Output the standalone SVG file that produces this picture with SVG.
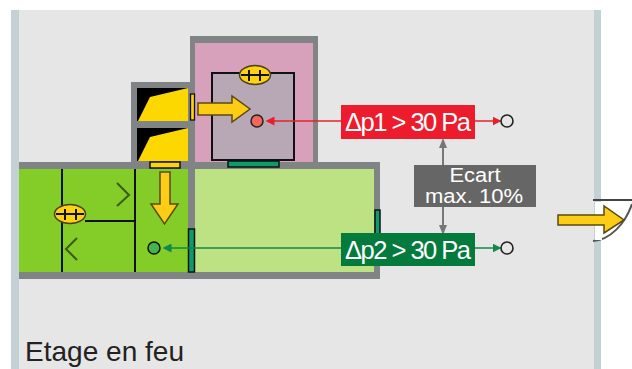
<svg xmlns="http://www.w3.org/2000/svg" width="632" height="369" viewBox="0 0 632 369">
<defs>
<style>
text{font-family:"Liberation Sans",Arial,sans-serif}
.wall{fill:#808484}
.blk{stroke:#111;fill:none;stroke-width:2}
.arrow{fill:#fdcc14;stroke:#5a4a10;stroke-width:1.5}
.oval{fill:#fdd20f;stroke:#4a4020;stroke-width:1.5}
.lbl{fill:#fff;font-size:25.500px}
.sm{fill:#fff;font-size:20px;text-anchor:middle}
.port{fill:#e6e6e6;stroke:#222;stroke-width:1.6}
</style>
<marker id="r" markerWidth="6" markerHeight="6" refX="5" refY="3" orient="auto"><path d="M0 0L6 3L0 6z" fill="#e8202a"/></marker>
<marker id="g" markerWidth="6" markerHeight="6" refX="5" refY="3" orient="auto"><path d="M0 0L6 3L0 6z" fill="#0f8a4a"/></marker>
<marker id="k" markerWidth="5" markerHeight="4" refX="4" refY="2" orient="auto"><path d="M0 0L5 2L0 4z" fill="#777"/></marker>
</defs>
<rect width="632" height="369" fill="#fff"/>
<g id="floor">
<rect x="12" y="10" width="588" height="359" fill="#e6e6e6"/>
<rect x="11" y="10" width="8" height="359" fill="#c3d1d5"/>
<rect x="594" y="10" width="7" height="359" fill="#c3d1d5"/>
<text x="25" y="361" font-size="28" fill="#222" textLength="159" lengthAdjust="spacingAndGlyphs">Etage en feu</text>
</g>
<g id="room-top">
<rect class="wall" x="190" y="36" width="128" height="130"/>
<rect x="195" y="43" width="118" height="119" fill="#d7a1bb"/>
<rect x="212" y="73" width="82" height="87" fill="#b8a7b4" stroke="#111" stroke-width="2"/>
<ellipse class="oval" cx="255" cy="75" rx="15.500" ry="9.500"/>
<path class="blk" d="M241 75H269M249 70V81M260 70V81"/>
</g>
<g id="shaft">
<rect class="wall" x="131" y="82" width="60" height="84"/>
<rect x="137" y="88" width="51" height="33" fill="#000"/>
<rect x="137" y="128" width="51" height="33" fill="#000"/>
<path d="M138 121L150 97L188 88V121Z" fill="#fdd800"/>
<path d="M138 161L150 137L188 128V161Z" fill="#fdd800"/>
<rect x="190.500" y="94" width="4" height="26" fill="#fdd20f" stroke="#111" stroke-width="1.300"/>
</g>
<g id="room-bottom">
<rect class="wall" x="19" y="162" width="361" height="117"/>
<rect x="19" y="169" width="169" height="103" fill="#84cc27"/>
<rect x="195" y="169" width="179" height="103" fill="#bde284"/>
<rect x="150" y="162" width="30" height="6" fill="#fdd20f" stroke="#111" stroke-width="1.500"/>
<rect x="228" y="161" width="51" height="6" fill="#0e9a6c" stroke="#111" stroke-width="1.500"/>
<path class="blk" d="M62 169V272M135 169V272M85 221H135"/>
<path d="M117 183L129 195L117 206M77 238L66 249L77 260" fill="none" stroke="#3c5a14" stroke-width="2"/>
<ellipse class="oval" cx="70" cy="214" rx="15.500" ry="9.500"/>
<path class="blk" d="M56 214H84M65 209V220M76 209V220"/>
<rect x="188.500" y="229" width="6" height="43" fill="#0e9a6c" stroke="#111" stroke-width="1.500"/>
<rect x="375" y="210" width="5" height="24" fill="#0e9a6c" stroke="#111" stroke-width="1.500"/>
</g>
<g id="arrow-top"><path class="arrow" d="M198 103H232V96L250 109L232 122V115H198Z"/></g>
<g id="arrow-down"><path class="arrow" d="M160 172H170V204H178L164.500 224L151 204H160Z"/></g>
<g id="door">
<path d="M593 200H632" stroke="#444" stroke-width="2" fill="none"/>
<path d="M593 241C610 240 625 224 632 204" stroke="#555" stroke-width="2" fill="none"/>
<rect x="595" y="202" width="7" height="38" fill="#fff"/>
<path class="arrow" d="M558 215H604V206L624 220L604 233V225H558Z"/>
</g>
<g id="connectors">
<path d="M341 121H267" stroke="#e8202a" stroke-width="1.500" fill="none" marker-end="url(#r)"/>
<path d="M341 248H164" stroke="#0f8a4a" stroke-width="1.500" fill="none" marker-end="url(#g)"/>
<path d="M475 121H500" stroke="#e8202a" stroke-width="1.500" fill="none" marker-end="url(#r)"/>
<path d="M475 248H500" stroke="#0f8a4a" stroke-width="1.500" fill="none" marker-end="url(#g)"/>
<path d="M443 165V140" stroke="#777" stroke-width="2" fill="none" marker-end="url(#k)"/>
<path d="M443 207V233" stroke="#777" stroke-width="2" fill="none" marker-end="url(#k)"/>
</g>
<g id="sensor-red"><circle cx="257" cy="121" r="6" fill="#f2665c" stroke="#222" stroke-width="1.500"/></g>
<g id="sensor-green"><circle cx="154" cy="248" r="6" fill="#46b44a" stroke="#111" stroke-width="1.500"/></g>
<g id="dp1"><rect x="341" y="105" width="134" height="34" fill="#ec1c2c"/><text class="lbl" x="345" y="131" textLength="126">Δp1 &gt; 30 Pa</text></g>
<g id="dp2"><rect x="341" y="233" width="134" height="33" fill="#057a3d"/><text class="lbl" x="345" y="259" textLength="126">Δp2 &gt; 30 Pa</text></g>
<g id="ecart"><rect x="414" y="165" width="122" height="42" fill="#666"/><text class="sm" x="475" y="182" textLength="51" lengthAdjust="spacingAndGlyphs">Ecart</text><text class="sm" x="474" y="203" textLength="98" lengthAdjust="spacingAndGlyphs">max. 10%</text></g>
<g id="port-1"><circle class="port" cx="507" cy="121" r="6"/></g>
<g id="port-2"><circle class="port" cx="507" cy="248" r="6"/></g>
</svg>
